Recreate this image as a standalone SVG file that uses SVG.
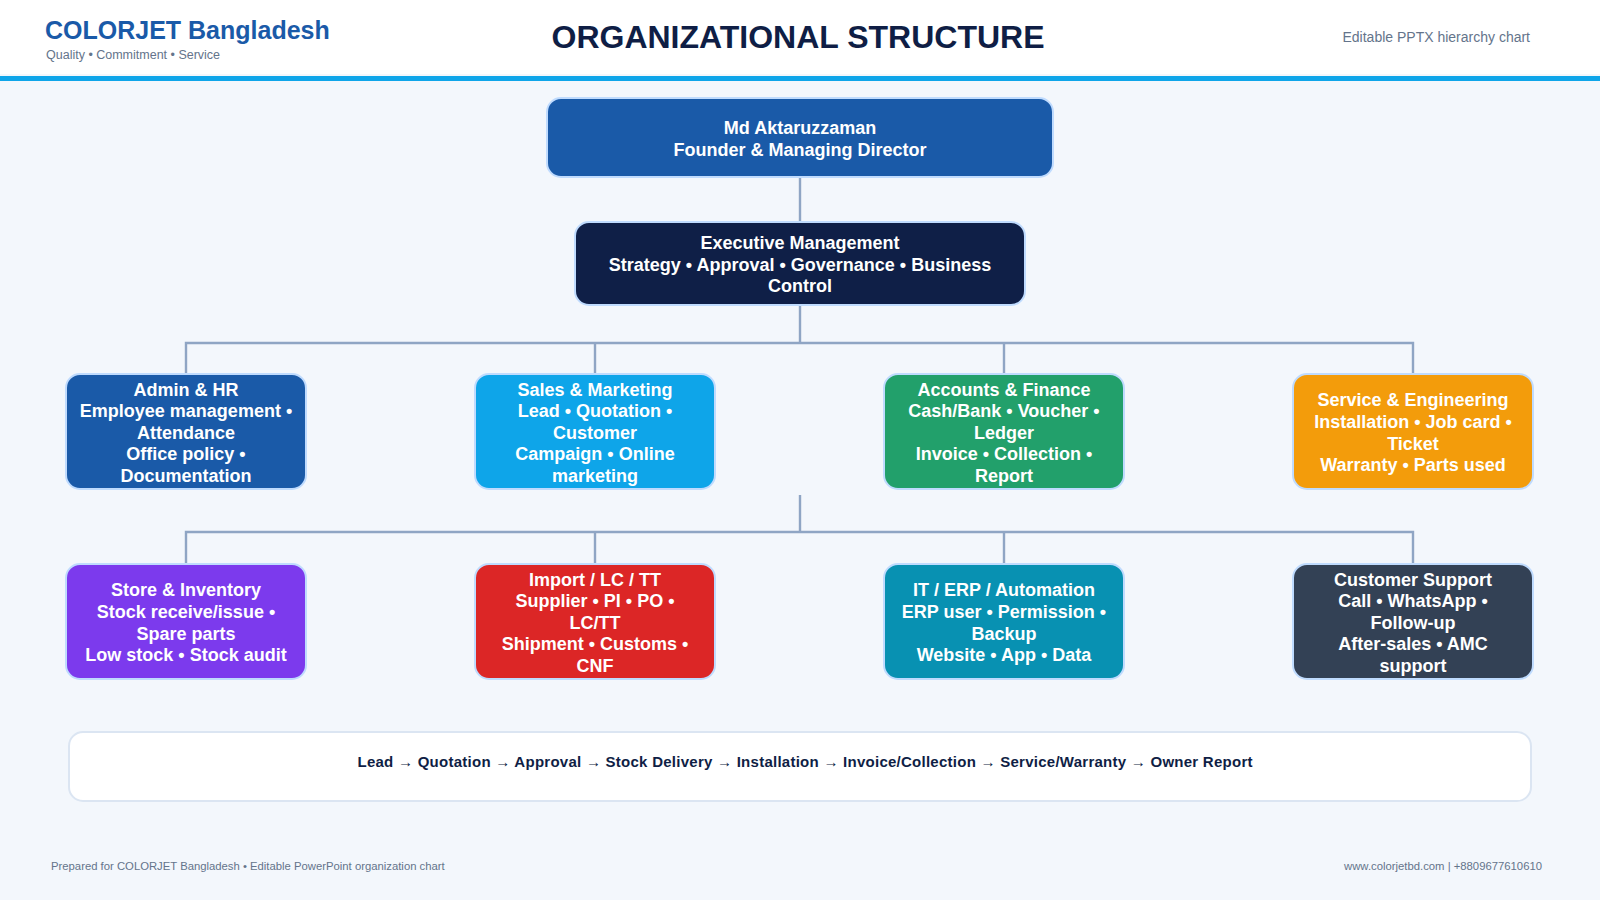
<svg xmlns="http://www.w3.org/2000/svg" width="1600" height="900" viewBox="0 0 1600 900">
  <defs>
    <style>
      .node rect { stroke: #bfdbfe; stroke-width: 2; }
      .node text { font-family: "Liberation Sans", Arial, sans-serif; font-size: 18px; font-weight: bold; fill: #ffffff; text-anchor: middle; }
      .conn { stroke: #8fa5c4; stroke-width: 2.4; fill: none; }
      .small { font-family: "Liberation Sans", Arial, sans-serif; fill: #64748b; }
    </style>
  </defs>
  <rect x="0" y="0" width="1600" height="900" fill="#f3f7fc"/>
  <rect x="0" y="0" width="1600" height="74" fill="#ffffff"/>
  <rect x="0" y="76" width="1600" height="5" fill="#0ea5e9"/>

  <g id="header">
    <text x="45" y="39" font-family="Liberation Sans, Arial, sans-serif" font-size="25" font-weight="bold" fill="#1a5aa8">COLORJET Bangladesh</text>
    <text x="46" y="59" class="small" font-size="12.5">Quality • Commitment • Service</text>
    <text x="798" y="48" font-family="Liberation Sans, Arial, sans-serif" font-size="32" font-weight="bold" fill="#0f1e45" text-anchor="middle">ORGANIZATIONAL STRUCTURE</text>
    <text x="1530" y="42" class="small" font-size="14" text-anchor="end">Editable PPTX hierarchy chart</text>
  </g>

  <g id="connectors">
    <line class="conn" x1="800" y1="177" x2="800" y2="222"/>
    <line class="conn" x1="800" y1="305" x2="800" y2="343"/>
    <polyline class="conn" points="186,374 186,343 1413,343 1413,374"/>
    <line class="conn" x1="595" y1="343" x2="595" y2="374"/>
    <line class="conn" x1="1004" y1="343" x2="1004" y2="374"/>
    <line class="conn" x1="800" y1="495" x2="800" y2="532"/>
    <polyline class="conn" points="186,564 186,532 1413,532 1413,564"/>
    <line class="conn" x1="595" y1="532" x2="595" y2="564"/>
    <line class="conn" x1="1004" y1="532" x2="1004" y2="564"/>
  </g>

  <g id="node-md" class="node">
    <rect x="547" y="98" width="506" height="79" rx="14" fill="#1a5aa8"/>
    <text><tspan x="800" y="134">Md Aktaruzzaman</tspan><tspan x="800" y="155.6">Founder &amp; Managing Director</tspan></text>
  </g>

  <g id="node-exec" class="node">
    <rect x="575" y="222" width="450" height="83" rx="14" fill="#0f1f47"/>
    <text><tspan x="800" y="249.2">Executive Management</tspan><tspan x="800" y="270.8">Strategy • Approval • Governance • Business</tspan><tspan x="800" y="292.4">Control</tspan></text>
  </g>

  <g id="node-admin" class="node">
    <rect x="66" y="374" width="240" height="115" rx="14" fill="#1a5aa8"/>
    <text><tspan x="186" y="395.6">Admin &amp; HR</tspan><tspan x="186" y="417.2">Employee management •</tspan><tspan x="186" y="438.8">Attendance</tspan><tspan x="186" y="460.4">Office policy •</tspan><tspan x="186" y="482">Documentation</tspan></text>
  </g>

  <g id="node-sales" class="node">
    <rect x="475" y="374" width="240" height="115" rx="14" fill="#0ea5e9"/>
    <text><tspan x="595" y="395.6">Sales &amp; Marketing</tspan><tspan x="595" y="417.2">Lead • Quotation •</tspan><tspan x="595" y="438.8">Customer</tspan><tspan x="595" y="460.4">Campaign • Online</tspan><tspan x="595" y="482">marketing</tspan></text>
  </g>

  <g id="node-accounts" class="node">
    <rect x="884" y="374" width="240" height="115" rx="14" fill="#22a06b"/>
    <text><tspan x="1004" y="395.6">Accounts &amp; Finance</tspan><tspan x="1004" y="417.2">Cash/Bank • Voucher •</tspan><tspan x="1004" y="438.8">Ledger</tspan><tspan x="1004" y="460.4">Invoice • Collection •</tspan><tspan x="1004" y="482">Report</tspan></text>
  </g>

  <g id="node-service" class="node">
    <rect x="1293" y="374" width="240" height="115" rx="14" fill="#f39c0b"/>
    <text><tspan x="1413" y="406.4">Service &amp; Engineering</tspan><tspan x="1413" y="428">Installation • Job card •</tspan><tspan x="1413" y="449.6">Ticket</tspan><tspan x="1413" y="471.2">Warranty • Parts used</tspan></text>
  </g>

  <g id="node-store" class="node">
    <rect x="66" y="564" width="240" height="115" rx="14" fill="#7c3aed"/>
    <text><tspan x="186" y="596.4">Store &amp; Inventory</tspan><tspan x="186" y="618">Stock receive/issue •</tspan><tspan x="186" y="639.6">Spare parts</tspan><tspan x="186" y="661.2">Low stock • Stock audit</tspan></text>
  </g>

  <g id="node-import" class="node">
    <rect x="475" y="564" width="240" height="115" rx="14" fill="#dc2626"/>
    <text><tspan x="595" y="585.6">Import / LC / TT</tspan><tspan x="595" y="607.2">Supplier • PI • PO •</tspan><tspan x="595" y="628.8">LC/TT</tspan><tspan x="595" y="650.4">Shipment • Customs •</tspan><tspan x="595" y="672">CNF</tspan></text>
  </g>

  <g id="node-it" class="node">
    <rect x="884" y="564" width="240" height="115" rx="14" fill="#0891b2"/>
    <text><tspan x="1004" y="596.4">IT / ERP / Automation</tspan><tspan x="1004" y="618">ERP user • Permission •</tspan><tspan x="1004" y="639.6">Backup</tspan><tspan x="1004" y="661.2">Website • App • Data</tspan></text>
  </g>

  <g id="node-support" class="node">
    <rect x="1293" y="564" width="240" height="115" rx="14" fill="#334155"/>
    <text><tspan x="1413" y="585.6">Customer Support</tspan><tspan x="1413" y="607.2">Call • WhatsApp •</tspan><tspan x="1413" y="628.8">Follow-up</tspan><tspan x="1413" y="650.4">After-sales • AMC</tspan><tspan x="1413" y="672">support</tspan></text>
  </g>

  <g id="flow">
    <rect x="69" y="732" width="1462" height="69" rx="14" fill="#ffffff" stroke="#dbe5f2" stroke-width="2"/>
    <text x="805" y="767" font-family="Liberation Sans, Arial, sans-serif" font-size="15" font-weight="bold" fill="#0f1e45" text-anchor="middle" textLength="895" lengthAdjust="spacing">Lead → Quotation → Approval → Stock Delivery → Installation → Invoice/Collection → Service/Warranty → Owner Report</text>
  </g>

  <g id="footer">
    <text x="51" y="870" class="small" font-size="11.3">Prepared for COLORJET Bangladesh • Editable PowerPoint organization chart</text>
    <text x="1542" y="870" class="small" font-size="11.3" text-anchor="end">www.colorjetbd.com | +8809677610610</text>
  </g>
</svg>
